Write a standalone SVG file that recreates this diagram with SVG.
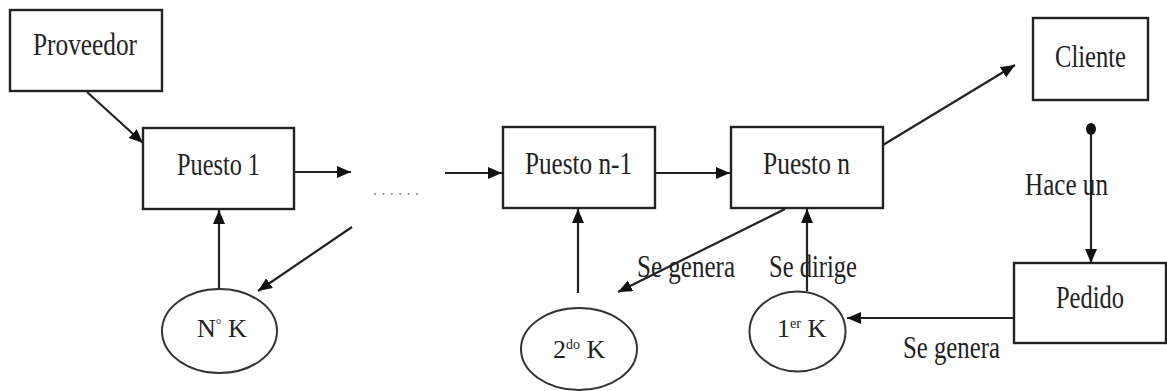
<svg xmlns="http://www.w3.org/2000/svg" width="1167" height="391" viewBox="0 0 1167 391">
<defs>
<style>
.box{fill:#fff;stroke:#222;stroke-width:2.4}
.ell{fill:#fff;stroke:#333;stroke-width:2}
.ln{fill:none;stroke:#222;stroke-width:2.2}
.t{font-family:"Liberation Serif","Times New Roman",serif;font-size:31px;fill:#222}
.s{font-family:"Liberation Serif","Times New Roman",serif;font-size:26px;fill:#222}
</style>
<marker id="ah" markerUnits="userSpaceOnUse" markerWidth="16" markerHeight="14" refX="14" refY="6" orient="auto">
<path d="M0,0 L14,6 L0,12 Z" fill="#111"/>
</marker>
</defs>
<rect width="1167" height="391" fill="#fff"/>
<g id="connectors">
<line class="ln" x1="87" y1="92" x2="143" y2="143" marker-end="url(#ah)"/>
<line class="ln" x1="294" y1="172" x2="351" y2="172" marker-end="url(#ah)"/>
<line class="ln" x1="445" y1="173" x2="502" y2="173" marker-end="url(#ah)"/>
<line class="ln" x1="655" y1="173" x2="730" y2="173" marker-end="url(#ah)"/>
<line class="ln" x1="883" y1="145" x2="1015" y2="65" marker-end="url(#ah)"/>
<line class="ln" x1="1091" y1="130" x2="1091" y2="263" marker-end="url(#ah)"/>
<ellipse cx="1091" cy="129" rx="5" ry="6" fill="#111"/>
<line class="ln" x1="1014" y1="318" x2="847" y2="318" marker-end="url(#ah)"/>
<line class="ln" x1="807" y1="291" x2="807" y2="209" marker-end="url(#ah)"/>
<line class="ln" x1="785" y1="209" x2="618" y2="292" marker-end="url(#ah)"/>
<line class="ln" x1="578" y1="293" x2="578" y2="209" marker-end="url(#ah)"/>
<line class="ln" x1="219" y1="289" x2="219" y2="210" marker-end="url(#ah)"/>
<line class="ln" x1="352" y1="227" x2="258" y2="291" marker-end="url(#ah)"/>
</g>
<g id="proveedor">
<rect class="box" x="10" y="10" width="152" height="81"/>
<text class="t" x="33" y="55" textLength="104" lengthAdjust="spacingAndGlyphs">Proveedor</text>
</g>
<g id="puesto1">
<rect class="box" x="143" y="128" width="151" height="81"/>
<text class="t" x="177" y="175" textLength="83" lengthAdjust="spacingAndGlyphs">Puesto 1</text>
</g>
<g id="dots">
<text x="373" y="195" font-family="Liberation Serif, serif" font-size="16" fill="#888" textLength="46" lengthAdjust="spacing">......</text>
</g>
<g id="puesto-n-1">
<rect class="box" x="503" y="127" width="152" height="81"/>
<text class="t" x="525" y="174" textLength="107" lengthAdjust="spacingAndGlyphs">Puesto n-1</text>
</g>
<g id="puesto-n">
<rect class="box" x="731" y="127" width="152" height="81"/>
<text class="t" x="763" y="174" textLength="87" lengthAdjust="spacingAndGlyphs">Puesto n</text>
</g>
<g id="cliente">
<rect class="box" x="1033" y="18" width="115" height="82"/>
<text class="t" x="1055" y="67" textLength="71" lengthAdjust="spacingAndGlyphs">Cliente</text>
</g>
<g id="pedido">
<rect class="box" x="1014" y="263" width="152" height="80"/>
<text class="t" x="1056" y="308" textLength="68" lengthAdjust="spacingAndGlyphs">Pedido</text>
</g>
<g id="nk">
<ellipse class="ell" cx="219.5" cy="331" rx="57.5" ry="42"/>
<text class="s" x="197" y="337">N<tspan font-size="14" dy="-8">°</tspan><tspan dy="8"> K</tspan></text>
</g>
<g id="k2">
<ellipse class="ell" cx="579" cy="349" rx="58" ry="41"/>
<text class="s" x="553" y="358">2<tspan font-size="14" dy="-9">do</tspan><tspan dy="9"> K</tspan></text>
</g>
<g id="k1">
<ellipse class="ell" cx="797.5" cy="331.5" rx="48" ry="40"/>
<text class="s" x="777" y="337">1<tspan font-size="14" dy="-9">er</tspan><tspan dy="9"> K</tspan></text>
</g>
<g id="labels">
<text class="t" x="1025" y="195" textLength="83" lengthAdjust="spacingAndGlyphs">Hace un</text>
<text class="t" x="769" y="277" textLength="88" lengthAdjust="spacingAndGlyphs">Se dirige</text>
<text class="t" x="637" y="277" textLength="98" lengthAdjust="spacingAndGlyphs">Se genera</text>
<text class="t" x="903" y="358" textLength="97" lengthAdjust="spacingAndGlyphs">Se genera</text>
</g>
</svg>
